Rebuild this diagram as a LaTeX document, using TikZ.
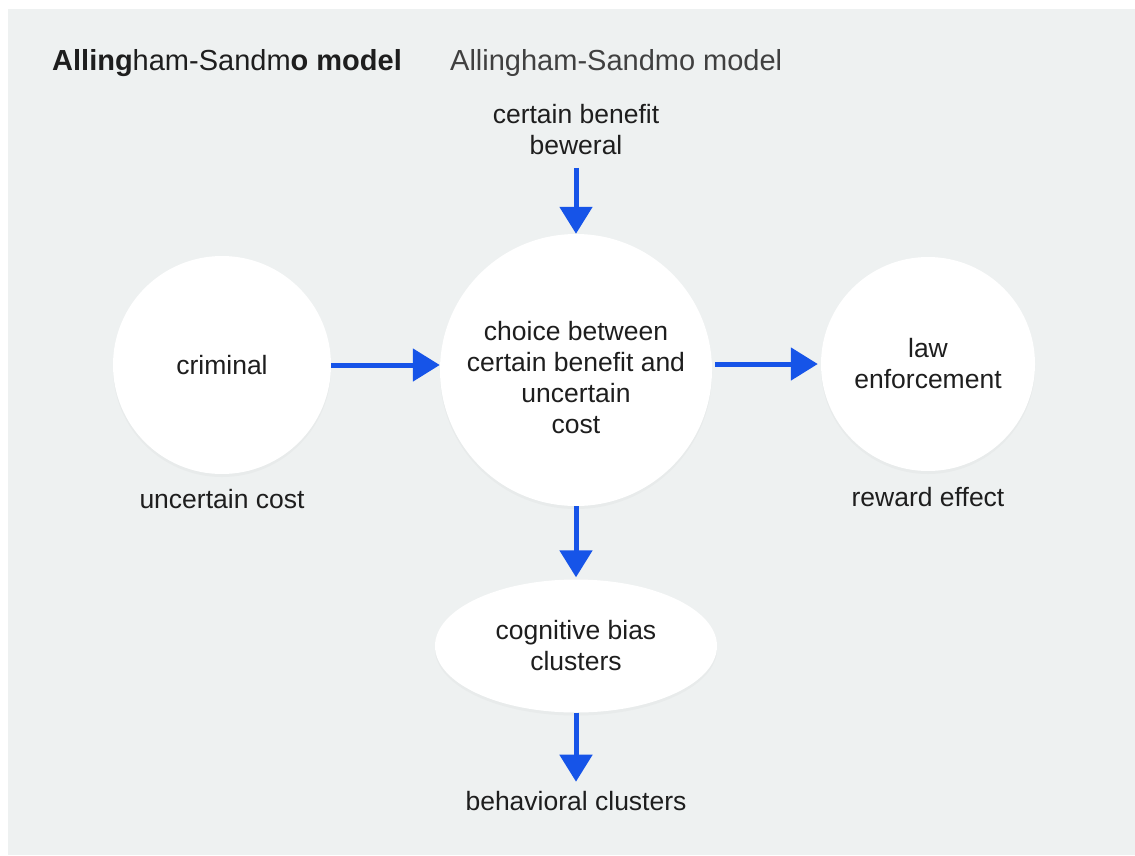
\documentclass[tikz,border=0pt]{standalone}
\usepackage{fontspec}
\setmainfont{Liberation Sans}
\usetikzlibrary{arrows.meta,shapes,positioning,shadows}

\definecolor{panelgray}{RGB}{238,241,241}
\definecolor{flowblue}{RGB}{22,84,232}
\definecolor{inkgray}{RGB}{30,30,30}
\definecolor{titlegray}{RGB}{64,64,64}

\begin{document}
\begin{tikzpicture}[x=1pt,y=-1pt]
\fill[white] (0,0) rectangle (1135,855);
\fill[panelgray] (8,9) rectangle (1135,855);
\useasboundingbox (0,0) rectangle (1135,855);
\begin{scope}
\tikzstyle{bubble}=[circle, fill=white, text=inkgray, align=center, inner sep=0pt, font=\fontsize{26.5}{31}\selectfont, drop shadow={opacity=0.05, shadow xshift=0pt, shadow yshift=-3pt}]
\tikzstyle{note}=[text=inkgray, align=center, inner sep=0pt, font=\fontsize{26.5}{31}\selectfont]
\tikzstyle{flow}=[draw=flowblue, line width=5pt, -{Triangle[length=27pt,width=32pt]}]
\node[anchor=base west, inner sep=0pt, text=inkgray, font=\fontsize{29}{33}\selectfont] (title) at (52,70) {\textbf{Alling}ham-Sandm\textbf{o model}};
\node[anchor=base west, inner sep=0pt, text=titlegray, font=\fontsize{29}{33}\selectfont] (subtitle) at (450,70) {Allingham-Sandmo model};
\node[bubble, minimum size=218pt] (criminal) at (222,365) {criminal};
\node[bubble, minimum size=272pt, text height=126.5pt] (choice) at (576,370) {choice between\\certain benefit and\\uncertain\\cost};
\node[bubble, minimum size=214pt] (law) at (928,364) {law\\enforcement};
\node[bubble, ellipse, minimum width=282pt, minimum height=133pt] (bias) at (576,646) {cognitive bias\\clusters};
\node[note, above=79pt of choice] (benefit) {certain benefit\\beweral};
\node[note, below=15pt of criminal] (cost) {uncertain cost};
\node[note, below=16pt of law] (reward) {reward effect};
\node[note, below=78pt of bias] (behavior) {behavioral clusters};
\draw[flow, shorten <=13pt] (benefit) -- (choice);
\draw[flow] (criminal.east) -- (criminal.east -| choice.west);
\draw[flow, shorten <=3pt, shorten >=3pt] (choice.east |- law.west) -- (law.west);
\draw[flow, shorten >=2pt] (choice) -- (bias);
\draw[flow, shorten >=9pt] (bias) -- (behavior);
\end{scope}
\end{tikzpicture}
\end{document}
